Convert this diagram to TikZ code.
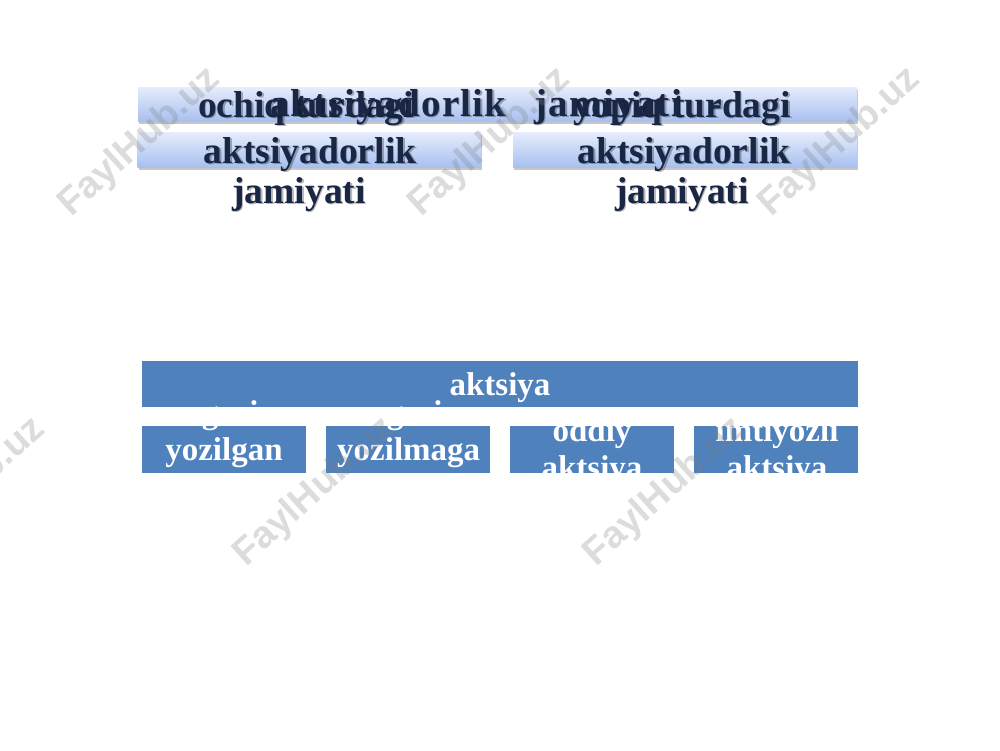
\documentclass[tikz,border=0pt]{standalone}
\usepackage{fontspec}
\setmainfont{Liberation Serif}
\newfontfamily\sidefont{Liberation Serif}
\newfontfamily\midfont[LetterSpace=3.3,WordSpace=2.5]{Liberation Serif}
\newfontfamily\wmfont{Liberation Sans}
\usetikzlibrary{shadows}
\definecolor{navy}{HTML}{1A2744}
\definecolor{boxtop}{HTML}{E6EDFC}
\definecolor{boxbot}{HTML}{A8C0F0}
\definecolor{officeblue}{HTML}{4F81BD}
\tikzset{
  gbox/.style={draw=none, top color=boxtop, bottom color=boxbot, inner sep=0pt,
    drop shadow={shadow xshift=1pt, shadow yshift=-2.5pt, opacity=.22, fill=black}},
  bbox/.style={fill=officeblue, draw=none, inner sep=0pt},
  sidetxt/.style={text=navy, font=\sidefont\bfseries\fontsize{37.5}{42}\selectfont, inner sep=0pt, anchor=base},
  midtxt/.style={text=navy, font=\midfont\bfseries\fontsize{39}{42}\selectfont, inner sep=0pt, anchor=base west},
  wtxt/.style={text=white, font=\bfseries\fontsize{33}{37}\selectfont, inner sep=0pt, anchor=base},
  wmark/.style={text=gray, text opacity=.27, font=\wmfont\bfseries\fontsize{38}{38}\selectfont, inner sep=0pt, rotate=42}
}
\newcommand\shtext[4]{%
  \node[#1, text=black, text opacity=.28, xshift=1.6pt, yshift=-1.8pt] at (#3) {#4};
  \node[#1] (#2) at (#3) {#4};}
\begin{document}
\begin{tikzpicture}[x=1pt,y=-1pt]
\fill[white] (0,0) rectangle (1000,750);
\useasboundingbox (0,0) rectangle (1000,750);
% gradient boxes
\node[gbox, minimum width=719pt, minimum height=34pt] (topbar) at (497.5,104) {};
\node[gbox, minimum width=343pt, minimum height=35pt] (leftbar) at (309,149.5) {};
\node[gbox, minimum width=344pt, minimum height=35pt] (rightbar) at (685,149.5) {};
% navy texts
\shtext{sidetxt}{lt1}{306,117}{ochiq turdagi}
\shtext{sidetxt}{lt2}{310,163}{aktsiyadorlik}
\shtext{sidetxt}{lt3}{299,203}{jamiyati}
\shtext{sidetxt}{rt1}{682,117}{yopiq turdagi}
\shtext{sidetxt}{rt2}{684,163}{aktsiyadorlik}
\shtext{sidetxt}{rt3}{682,203}{jamiyati}
\shtext{midtxt}{mid}{270,116}{aktsiyadorlik jamiyati -}
% blue boxes
\node[bbox, minimum width=716pt, minimum height=46pt] (akt) at (500,384) {};
\node[bbox, minimum width=164pt, minimum height=47pt] (b1) at (224,449.5) {};
\node[bbox, minimum width=164pt, minimum height=47pt] (b2) at (408,449.5) {};
\node[bbox, minimum width=164pt, minimum height=47pt] (b3) at (592,449.5) {};
\node[bbox, minimum width=164pt, minimum height=47pt] (b4) at (776,449.5) {};
% white texts
\node[wtxt] (aktt) at (500,395) {aktsiya};
\node[wtxt] (g1) at (210,423) {g};
\node[wtxt] (i1) at (254,423) {i};
\node[wtxt] (b1t) at (224,460) {yozilgan};
\node[wtxt] (g2) at (395,423) {g};
\node[wtxt] (i2) at (438,423) {i};
\begin{scope}
  \clip (326,420) rectangle (480.5,480);
  \node[wtxt, anchor=base west] (b2t) at (337,460) {yozilmagan};
\end{scope}
\node[wtxt] (b3a) at (592,441) {oddiy};
\node[wtxt] (b3b) at (592,478) {aktsiya};
\node[wtxt] (b4a) at (777,441) {imtiyozli};
\node[wtxt] (b4b) at (777,478) {aktsiya};
% watermarks
\node[wmark] (w1) at (140,142) {FaylHub.uz};
\node[wmark] (w2) at (490,142) {FaylHub.uz};
\node[wmark] (w3) at (840,142) {FaylHub.uz};
\node[wmark] (w4) at (-35,492) {FaylHub.uz};
\node[wmark] (w5) at (315,492) {FaylHub.uz};
\node[wmark] (w6) at (665,492) {FaylHub.uz};
\end{tikzpicture}
\end{document}
